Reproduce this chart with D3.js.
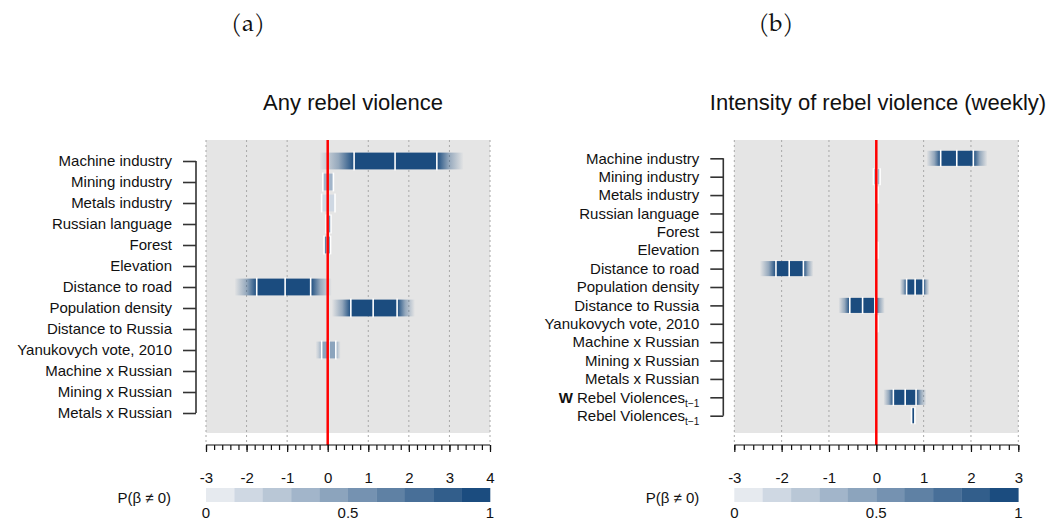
<!DOCTYPE html>
<html>
<head>
<meta charset="utf-8">
<script src="https://cdn.jsdelivr.net/npm/d3@7"></script>
<style>
  body { margin: 0; background: #fff; }
  text { font-family: "Liberation Sans", Arial, sans-serif; fill: #111; }
</style>
</head>
<body>
<div id="vizcontainer"></div>
<script>
// panel (a): any rebel violence
const labelsA = ['Machine industry', 'Mining industry', 'Metals industry', 'Russian language', 'Forest',
  'Elevation', 'Distance to road', 'Population density', 'Distance to Russia', 'Yanukovych vote, 2010',
  'Machine x Russian', 'Mining x Russian', 'Metals x Russian'];
const meanA   = [1.66, 0.01, 0.01, 0.02, -0.01, 0.0, -1.05, 1.12, 0.0, 0.03, null, null, null];
const loA     = [0.65, -0.12, -0.15, -0.04, -0.09, -0.005, -1.75, 0.57, -0.005, -0.15, null, null, null];
const hiA     = [2.69, 0.14, 0.18, 0.08, 0.07, 0.005, -0.42, 1.71, 0.005, 0.2, null, null, null];
const tailLoA = [-0.2, -0.12, -0.15, -0.04, -0.09, -0.005, -2.3, 0.1, -0.005, -0.3, null, null, null];
const tailHiA = [3.35, 0.14, 0.18, 0.08, 0.07, 0.005, 0.1, 2.15, 0.005, 0.32, null, null, null];
const probA   = [1, 0.35, 0.12, 0.85, 0.6, 0.02, 1, 1, 0.02, 0.45, null, null, null];
const ticksA  = [-3, -2, -1, 0, 1, 2, 3, 4];

// panel (b): intensity of rebel violence (weekly)
const labelsB = ['Machine industry', 'Mining industry', 'Metals industry', 'Russian language', 'Forest',
  'Elevation', 'Distance to road', 'Population density', 'Distance to Russia', 'Yanukovych vote, 2010',
  'Machine x Russian', 'Mining x Russian', 'Metals x Russian', 'W Rebel Violences_t\u22121', 'Rebel Violences_t\u22121'];
const meanB   = [1.70, 0.01, 0.03, null, null, 0.03, -1.84, 0.82, -0.29, 0.03, null, null, null, 0.61, 0.78];
const loB     = [1.36, -0.06, 0.025, null, null, 0.025, -2.12, 0.64, -0.56, 0.025, null, null, null, 0.36, 0.745];
const hiB     = [2.05, 0.08, 0.035, null, null, 0.035, -1.54, 0.99, -0.03, 0.035, null, null, null, 0.84, 0.815];
const tailLoB = [1.06, -0.06, 0.025, null, null, 0.025, -2.46, 0.5, -0.8, 0.025, null, null, null, 0.15, 0.745];
const tailHiB = [2.35, 0.08, 0.035, null, null, 0.035, -1.33, 1.12, 0.18, 0.035, null, null, null, 1.06, 0.815];
const probB   = [1, 0.3, 0.02, null, null, 0.02, 1, 1, 1, 0.02, null, null, null, 1, 1];
const ticksB  = [-3, -2, -1, 0, 1, 2, 3];

const legendLabels = [0, 0.5, 1];

const width = 1046, height = 520;
const colorLight = '#e6eaef', colorDark = '#1b4c7f';
const shade = d3.scaleQuantize().domain([0, 1])
  .range(d3.range(10).map(i => d3.interpolateRgb(colorLight, colorDark)(i / 9)));

const svg = d3.select('#vizcontainer')
  .append('svg')
  .attr('width', width)
  .attr('height', height);
const defs = svg.append('defs');

svg.append('text').attr('x', 248).attr('y', 31).attr('text-anchor', 'middle')
  .style('font-family', '"TeX Gyre Pagella", "Palatino Linotype", "DejaVu Serif", serif')
  .style('font-size', '24px').text('(a)');
svg.append('text').attr('x', 776).attr('y', 31).attr('text-anchor', 'middle')
  .style('font-family', '"TeX Gyre Pagella", "Palatino Linotype", "DejaVu Serif", serif')
  .style('font-size', '24px').text('(b)');

function drawPanel(p) {
  const g = svg.append('g');
  const x = d3.scaleLinear().domain(d3.extent(p.ticks)).range(p.xRange);
  const y = d3.scalePoint().domain(p.labels).range(p.yRange);
  const band = (y.step()) * p.bandFrac;

  g.append('text').attr('x', p.titleX).attr('y', 110).attr('text-anchor', 'middle')
    .style('font-size', '22px').text(p.title);

  g.append('rect')
    .attr('x', x.range()[0]).attr('y', p.top)
    .attr('width', x.range()[1] - x.range()[0]).attr('height', p.bottom - p.top)
    .attr('fill', '#e5e5e5');

  g.selectAll('.grid').data(p.ticks).join('line')
    .attr('x1', d => x(d)).attr('x2', d => x(d))
    .attr('y1', p.top).attr('y2', p.axisY)
    .attr('stroke', '#a8a8a8').attr('stroke-width', 1).attr('stroke-dasharray', '2,3');

  // posterior draws
  const rows = p.labels.map((l, i) => ({
    label: l, mean: p.mean[i], lo: p.lo[i], hi: p.hi[i], tlo: p.tailLo[i], thi: p.tailHi[i], prob: p.prob[i], i
  })).filter(d => d.mean !== null);

  rows.forEach(d => {
    const c = shade(d.prob);
    const idL = `${p.id}-l-${d.i}`, idR = `${p.id}-r-${d.i}`;
    const gl = defs.append('linearGradient').attr('id', idL);
    gl.append('stop').attr('offset', '0%').attr('stop-color', c).attr('stop-opacity', 0);
    gl.append('stop').attr('offset', '55%').attr('stop-color', c).attr('stop-opacity', 0.4);
    gl.append('stop').attr('offset', '100%').attr('stop-color', c).attr('stop-opacity', 1);
    const gr = defs.append('linearGradient').attr('id', idR);
    gr.append('stop').attr('offset', '0%').attr('stop-color', c).attr('stop-opacity', 1);
    gr.append('stop').attr('offset', '45%').attr('stop-color', c).attr('stop-opacity', 0.4);
    gr.append('stop').attr('offset', '100%').attr('stop-color', c).attr('stop-opacity', 0);
    const yc = y(d.label);
    if (x(d.lo) - x(d.tlo) > 1)
      g.append('rect').attr('x', x(d.tlo)).attr('y', yc - band / 2)
        .attr('width', x(d.lo) - x(d.tlo)).attr('height', band).attr('fill', `url(#${idL})`);
    if (x(d.thi) - x(d.hi) > 1)
      g.append('rect').attr('x', x(d.hi)).attr('y', yc - band / 2)
        .attr('width', x(d.thi) - x(d.hi)).attr('height', band).attr('fill', `url(#${idR})`);
    g.append('rect').attr('x', x(d.lo)).attr('y', yc - band / 2)
      .attr('width', Math.max(0.5, x(d.hi) - x(d.lo))).attr('height', band)
      .attr('fill', c);
    const wl = (x(d.hi) - x(d.lo) < 3.5) ? [d.lo, d.hi] : [d.lo, d.mean, d.hi];
    g.selectAll(null).data(wl).join('line')
      .attr('x1', v => x(v)).attr('x2', v => x(v))
      .attr('y1', yc - band / 2 - 1).attr('y2', yc + band / 2 + 1)
      .attr('stroke', '#fff').attr('stroke-width', 1.6);
  });

  g.append('line')
    .attr('x1', x(0)).attr('x2', x(0)).attr('y1', p.top).attr('y2', p.axisY)
    .attr('stroke', '#ff0000').attr('stroke-width', 2.5);

  // x axis: minor + major ticks
  const minor = d3.range(p.ticks[0] * 5, p.ticks[p.ticks.length - 1] * 5 + 1).map(v => v / 5);
  g.append('g').attr('transform', `translate(0,${p.axisY})`)
    .call(d3.axisBottom(x).tickValues(minor).tickSize(5).tickFormat(''))
    .call(a => a.select('.domain').attr('d', `M${x.range()[0]},0H${x.range()[1]}`))
    .call(a => a.selectAll('line,path').attr('stroke', '#111').attr('stroke-width', 1.2));
  g.append('g').attr('transform', `translate(0,${p.axisY})`)
    .call(d3.axisBottom(x).tickValues(p.ticks).tickSize(7).tickPadding(20).tickFormat(d => String(d)))
    .call(a => a.select('.domain').remove())
    .call(a => a.selectAll('line').attr('stroke', '#111').attr('stroke-width', 1.2))
    .call(a => a.selectAll('text').style('font-size', '15px').style('font-family', '"Liberation Sans", Arial, sans-serif').attr('fill', '#111'));

  // y axis
  g.append('g').attr('transform', `translate(${p.yAxisX},0)`)
    .call(d3.axisLeft(y).tickSize(13).tickPadding(11).tickFormat(''))
    .call(a => a.select('.domain').attr('d', `M0,${p.yRange[0]}V${p.yRange[1]}`))
    .call(a => a.selectAll('line,path').attr('stroke', '#333').attr('stroke-width', 1.6));
  const yl = g.selectAll('.ylab').data(p.labels).join('text')
    .attr('x', p.yAxisX - 24).attr('y', d => y(d)).attr('dy', '0.35em')
    .attr('text-anchor', 'end').style('font-size', '15px');
  yl.each(function (d) {
    const t = d3.select(this);
    let s = d;
    if (s.startsWith('W ')) {
      t.append('tspan').style('font-weight', 'bold').text('W');
      s = s.slice(1);
    }
    const parts = s.split('_');
    t.append('tspan').text(parts[0]);
    if (parts[1]) t.append('tspan').attr('dy', '4').style('font-size', '10px').text(parts[1]);
  });

  // legend
  const lx = d3.scaleLinear().domain([0, 1]).range(x.range());
  const bins = d3.range(10);
  g.selectAll('.leg').data(bins).join('rect')
    .attr('x', d => lx(d / 10)).attr('y', 488)
    .attr('width', lx(0.1) - lx(0) + 0.3).attr('height', 14)
    .attr('fill', d => shade((d + 0.5) / 10));
  g.selectAll('.legt').data(legendLabels).join('text')
    .attr('x', d => lx(d)).attr('y', 518).attr('text-anchor', 'middle')
    .style('font-size', '15px').text(d => d);
  g.append('text').attr('x', x.range()[0] - 35).attr('y', 503).attr('text-anchor', 'end')
    .style('font-size', '15px').text('P(\u03b2 \u2260 0)');
}

drawPanel({
  id: 'a', title: 'Any rebel violence', titleX: 353,
  labels: labelsA, mean: meanA, lo: loA, hi: hiA, tailLo: tailLoA, tailHi: tailHiA, prob: probA,
  ticks: ticksA, xRange: [206, 490], yRange: [161, 413], bandFrac: 0.8,
  top: 140, bottom: 433, axisY: 445, yAxisX: 196
});
drawPanel({
  id: 'b', title: 'Intensity of rebel violence (weekly)', titleX: 878,
  labels: labelsB, mean: meanB, lo: loB, hi: hiB, tailLo: tailLoB, tailHi: tailHiB, prob: probB,
  ticks: ticksB, xRange: [734.3, 1018.3], yRange: [158.3, 415.7], bandFrac: 0.82,
  top: 140, bottom: 433, axisY: 445, yAxisX: 723.3
});
</script>
</body>
</html>
